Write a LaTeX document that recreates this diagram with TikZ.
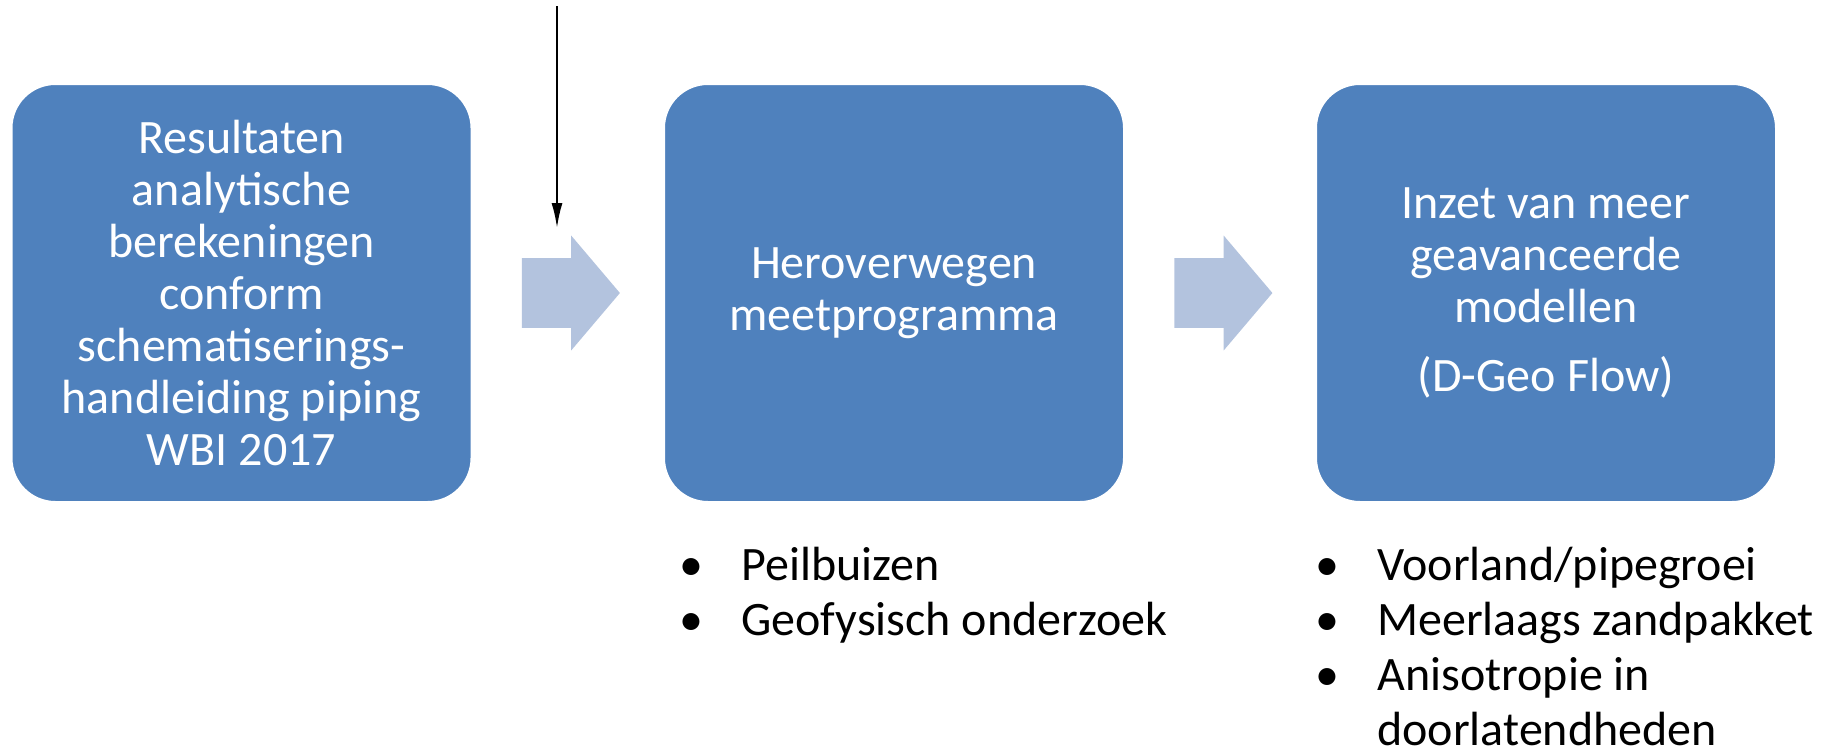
\documentclass[tikz,border=0pt]{standalone}
\usepackage{fontspec}
\setmainfont{Carlito}
\usetikzlibrary{shapes,shapes.arrows}
\usetikzlibrary{arrows.meta}
\usetikzlibrary{positioning}
\definecolor{boxblue}{rgb}{0.3098039,0.5058824,0.7411765}
\definecolor{arrowblue}{rgb}{0.7019608,0.7647059,0.8705882}
\tikzset{stepbox/.style={rectangle, rounded corners=22pt, fill=boxblue, draw=white, line width=1pt,
minimum width=230pt, minimum height=209pt, text=white, align=center,
font=\fontsize{24}{26}\selectfont},
flowarrow/.style={single arrow, fill=arrowblue, draw=none, inner xsep=0pt, inner ysep=17.25pt,
minimum height=49pt, single arrow head extend=11.25pt, single arrow tip angle=99.4},
bullets/.style={anchor=base west, inner sep=0pt, font=\fontsize{24}{27.6}\selectfont},
>={Latex[length=12.5pt,width=5.5pt]}}

\begin{document}
\begin{tikzpicture}[x=0.5pt,y=-0.5pt]
  \useasboundingbox (0,0) rectangle (1830,755);
  \node(res) [stepbox] at (241.5,293) {Resultaten\\analytische\\berekeningen\\conform\\schematiserings-\\handleiding piping\\WBI 2017};
  \node(herov) [stepbox] at (894,293) {Heroverwegen\\meetprogramma};
  \node(inzet) [stepbox] at (1546,293) {Inzet van meer\\geavanceerde\\modellen\\[8.5pt](D-Geo Flow)};
  \node(pijl1) [flowarrow, right=24.5pt of res] {};
  \node(pijl2) [flowarrow, right=24.5pt of herov] {};
  \node(meet) [bullets] at (679,580) {\begin{tabular}[t]{@{}p{31pt}@{}l@{}}
    \textbullet & Peilbuizen\\
    \textbullet & Geofysisch onderzoek
  \end{tabular}};
  \node(model) [bullets] at (1315,580) {\begin{tabular}[t]{@{}p{31pt}@{}l@{}}
    \textbullet & Voorland/pipegroei\\
    \textbullet & Meerlaags zandpakket\\
    \textbullet & Anisotropie in\\
    & doorlatendheden
  \end{tabular}};
  \coordinate(bron) at (557,6);
  \coordinate(doel) at (557,228);

\draw
(bron)
   edge [->,line width=1pt]
(doel);
\end{tikzpicture}
\end{document}
